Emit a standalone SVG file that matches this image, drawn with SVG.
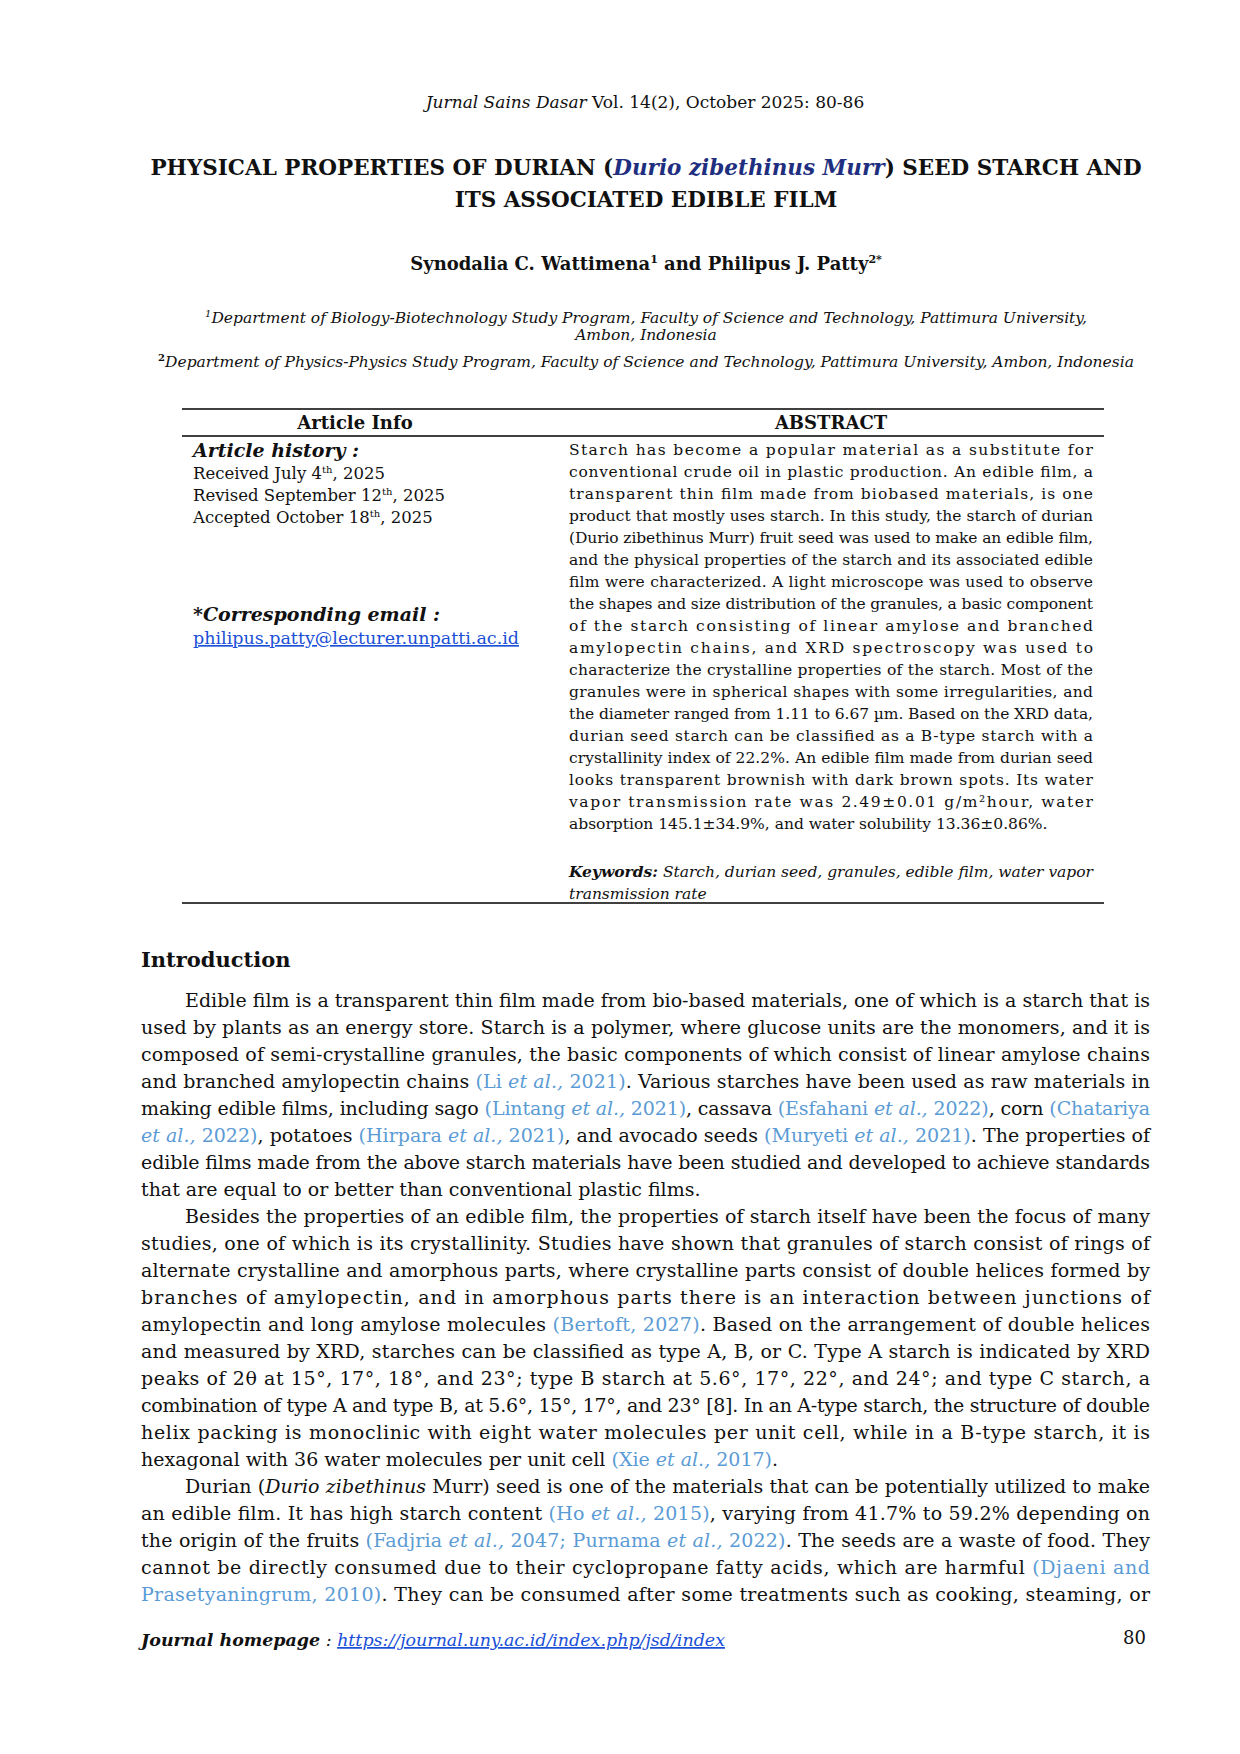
<svg xmlns="http://www.w3.org/2000/svg" width="1240" height="1754" viewBox="0 0 1240 1754">
<style>
text{font-family:"DejaVu Serif","Liberation Serif",serif;fill:#111}
.h{font-size:17px}
.t{font-size:21.5px;font-weight:bold}
.a{font-size:18px;font-weight:bold}
.f{font-size:15.5px;font-style:italic}
.th{font-size:18px;font-weight:bold}
.s{font-size:15.5px}
.s2{font-size:16.5px}
.b{font-size:19px}
.c{fill:#5b9bd5}
.i{font-style:italic}
.bi{font-weight:bold;font-style:italic}
.l{fill:#1a4fd6;text-decoration:underline}
</style>
<rect width="1240" height="1754" fill="#fff"/>
<text class="h" x="645" y="108" text-anchor="middle"><tspan class="i">Jurnal Sains Dasar</tspan> Vol. 14(2), October 2025: 80-86</text>
<text class="t" x="646" y="175" text-anchor="middle">PHYSICAL PROPERTIES OF DURIAN (<tspan class="i" fill="#1f2f80">Durio zibethinus Murr</tspan>) SEED STARCH AND</text>
<text class="t" x="646" y="207" text-anchor="middle">ITS ASSOCIATED EDIBLE FILM</text>
<text class="a" x="646" y="270" text-anchor="middle">Synodalia C. Wattimena<tspan font-size="11" dy="-7">1</tspan><tspan dy="7"> and Philipus J. Patty</tspan><tspan font-size="11" dy="-7">2*</tspan></text>
<text class="f" x="646" y="323" text-anchor="middle"><tspan font-size="10" dy="-6">1</tspan><tspan dy="6">Department of Biology-Biotechnology Study Program, Faculty of Science and Technology, Pattimura University,</tspan></text>
<text class="f" x="646" y="340" text-anchor="middle">Ambon, Indonesia</text>
<text class="f" x="646" y="367" text-anchor="middle"><tspan font-size="10" dy="-6" font-style="normal" font-weight="bold">2</tspan><tspan dy="6">Department of Physics-Physics Study Program, Faculty of Science and Technology, Pattimura University, Ambon, Indonesia</tspan></text>
<g stroke="#000" stroke-width="1.3">
<line x1="182" y1="409" x2="1104" y2="409"/>
<line x1="182" y1="436" x2="1104" y2="436"/>
<line x1="182" y1="903" x2="1104" y2="903"/>
</g>
<text class="th" x="355" y="429" text-anchor="middle">Article Info</text>
<text class="th" x="831" y="429" text-anchor="middle">ABSTRACT</text>
<text class="b bi" x="193" y="457">Article history :</text>
<text class="s2" x="193" y="479">Received July 4<tspan font-size="10" dy="-6">th</tspan><tspan dy="6">, 2025</tspan></text>
<text class="s2" x="193" y="501">Revised September 12<tspan font-size="10" dy="-6">th</tspan><tspan dy="6">, 2025</tspan></text>
<text class="s2" x="193" y="523">Accepted October 18<tspan font-size="10" dy="-6">th</tspan><tspan dy="6">, 2025</tspan></text>
<text class="b bi" x="193" y="621">*Corresponding email :</text>
<text class="s2 l" x="193" y="644" textLength="326" lengthAdjust="spacingAndGlyphs">philipus.patty@lecturer.unpatti.ac.id</text>
<g class="s">
<text x="569" y="455" textLength="524" lengthAdjust="spacing">Starch has become a popular material as a substitute for</text>
<text x="569" y="477" textLength="524" lengthAdjust="spacing">conventional crude oil in plastic production. An edible film, a</text>
<text x="569" y="499" textLength="524" lengthAdjust="spacing">transparent thin film made from biobased materials, is one</text>
<text x="569" y="521" textLength="524" lengthAdjust="spacing">product that mostly uses starch. In this study, the starch of durian</text>
<text x="569" y="543" textLength="524" lengthAdjust="spacing">(Durio zibethinus Murr) fruit seed was used to make an edible film,</text>
<text x="569" y="565" textLength="524" lengthAdjust="spacing">and the physical properties of the starch and its associated edible</text>
<text x="569" y="587" textLength="524" lengthAdjust="spacing">film were characterized. A light microscope was used to observe</text>
<text x="569" y="609" textLength="524" lengthAdjust="spacing">the shapes and size distribution of the granules, a basic component</text>
<text x="569" y="631" textLength="524" lengthAdjust="spacing">of the starch consisting of linear amylose and branched</text>
<text x="569" y="653" textLength="524" lengthAdjust="spacing">amylopectin chains, and XRD spectroscopy was used to</text>
<text x="569" y="675" textLength="524" lengthAdjust="spacing">characterize the crystalline properties of the starch. Most of the</text>
<text x="569" y="697" textLength="524" lengthAdjust="spacing">granules were in spherical shapes with some irregularities, and</text>
<text x="569" y="719" textLength="524" lengthAdjust="spacing">the diameter ranged from 1.11 to 6.67 µm. Based on the XRD data,</text>
<text x="569" y="741" textLength="524" lengthAdjust="spacing">durian seed starch can be classified as a B-type starch with a</text>
<text x="569" y="763" textLength="524" lengthAdjust="spacing">crystallinity index of 22.2%. An edible film made from durian seed</text>
<text x="569" y="785" textLength="524" lengthAdjust="spacing">looks transparent brownish with dark brown spots. Its water</text>
<text x="569" y="807" textLength="524" lengthAdjust="spacing">vapor transmission rate was 2.49±0.01 g/m²hour, water</text>
<text x="569" y="829">absorption 145.1±34.9%, and water solubility 13.36±0.86%.</text>
<text x="569" y="877" textLength="524" lengthAdjust="spacing"><tspan class="bi">Keywords:</tspan><tspan class="i"> Starch, durian seed, granules, edible film, water vapor</tspan></text>
<text x="569" y="899" class="i">transmission rate</text>
</g>
<text x="141" y="967" font-size="21" font-weight="bold">Introduction</text>
<g class="b">
<text x="185" y="1007" textLength="965" lengthAdjust="spacing">Edible film is a transparent thin film made from bio-based materials, one of which is a starch that is</text>
<text x="141" y="1034" textLength="1009" lengthAdjust="spacing">used by plants as an energy store. Starch is a polymer, where glucose units are the monomers, and it is</text>
<text x="141" y="1061" textLength="1009" lengthAdjust="spacing">composed of semi-crystalline granules, the basic components of which consist of linear amylose chains</text>
<text x="141" y="1088" textLength="1009" lengthAdjust="spacing">and branched amylopectin chains <tspan class="c">(Li <tspan class="i">et al.,</tspan> 2021)</tspan>. Various starches have been used as raw materials in</text>
<text x="141" y="1115" textLength="1009" lengthAdjust="spacing">making edible films, including sago <tspan class="c">(Lintang <tspan class="i">et al.,</tspan> 2021)</tspan>, cassava <tspan class="c">(Esfahani <tspan class="i">et al.,</tspan> 2022)</tspan>, corn <tspan class="c">(Chatariya</tspan></text>
<text x="141" y="1142" textLength="1009" lengthAdjust="spacing"><tspan class="c"><tspan class="i">et al.,</tspan> 2022)</tspan>, potatoes <tspan class="c">(Hirpara <tspan class="i">et al.,</tspan> 2021)</tspan>, and avocado seeds <tspan class="c">(Muryeti <tspan class="i">et al.,</tspan> 2021)</tspan>. The properties of</text>
<text x="141" y="1169" textLength="1009" lengthAdjust="spacing">edible films made from the above starch materials have been studied and developed to achieve standards</text>
<text x="141" y="1196">that are equal to or better than conventional plastic films.</text>
<text x="185" y="1223" textLength="965" lengthAdjust="spacing">Besides the properties of an edible film, the properties of starch itself have been the focus of many</text>
<text x="141" y="1250" textLength="1009" lengthAdjust="spacing">studies, one of which is its crystallinity. Studies have shown that granules of starch consist of rings of</text>
<text x="141" y="1277" textLength="1009" lengthAdjust="spacing">alternate crystalline and amorphous parts, where crystalline parts consist of double helices formed by</text>
<text x="141" y="1304" textLength="1009" lengthAdjust="spacing">branches of amylopectin, and in amorphous parts there is an interaction between junctions of</text>
<text x="141" y="1331" textLength="1009" lengthAdjust="spacing">amylopectin and long amylose molecules <tspan class="c">(Bertoft, 2027)</tspan>. Based on the arrangement of double helices</text>
<text x="141" y="1358" textLength="1009" lengthAdjust="spacing">and measured by XRD, starches can be classified as type A, B, or C. Type A starch is indicated by XRD</text>
<text x="141" y="1385" textLength="1009" lengthAdjust="spacing">peaks of 2θ at 15°, 17°, 18°, and 23°; type B starch at 5.6°, 17°, 22°, and 24°; and type C starch, a</text>
<text x="141" y="1412" textLength="1009" lengthAdjust="spacing">combination of type A and type B, at 5.6°, 15°, 17°, and 23° [8]. In an A-type starch, the structure of double</text>
<text x="141" y="1439" textLength="1009" lengthAdjust="spacing">helix packing is monoclinic with eight water molecules per unit cell, while in a B-type starch, it is</text>
<text x="141" y="1466">hexagonal with 36 water molecules per unit cell <tspan class="c">(Xie <tspan class="i">et al.,</tspan> 2017)</tspan>.</text>
<text x="185" y="1493" textLength="965" lengthAdjust="spacing">Durian (<tspan class="i">Durio zibethinus</tspan> Murr) seed is one of the materials that can be potentially utilized to make</text>
<text x="141" y="1520" textLength="1009" lengthAdjust="spacing">an edible film. It has high starch content <tspan class="c">(Ho <tspan class="i">et al.,</tspan> 2015)</tspan>, varying from 41.7% to 59.2% depending on</text>
<text x="141" y="1547" textLength="1009" lengthAdjust="spacing">the origin of the fruits <tspan class="c">(Fadjria <tspan class="i">et al.,</tspan> 2047; Purnama <tspan class="i">et al.,</tspan> 2022)</tspan>. The seeds are a waste of food. They</text>
<text x="141" y="1574" textLength="1009" lengthAdjust="spacing">cannot be directly consumed due to their cyclopropane fatty acids, which are harmful <tspan class="c">(Djaeni and</tspan></text>
<text x="141" y="1601" textLength="1009" lengthAdjust="spacing"><tspan class="c">Prasetyaningrum, 2010)</tspan>. They can be consumed after some treatments such as cooking, steaming, or</text>
</g>
<text x="141" y="1646" font-size="17.5" textLength="584" lengthAdjust="spacingAndGlyphs"><tspan class="bi">Journal homepage</tspan><tspan class="i"> : </tspan><tspan class="i l">https://journal.uny.ac.id/index.php/jsd/index</tspan></text>
<text x="1146" y="1644" font-size="18" text-anchor="end">80</text>
</svg>
